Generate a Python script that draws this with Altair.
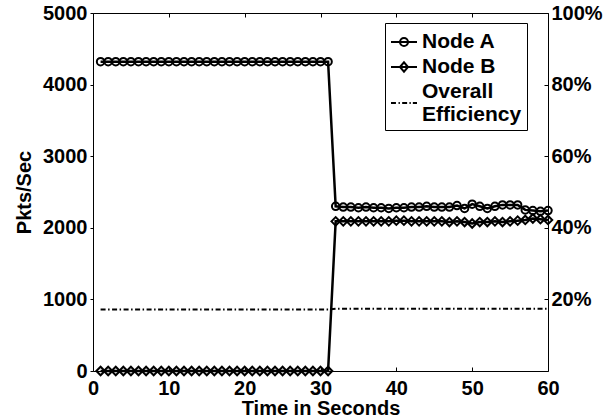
import altair as alt
import pandas as pd

# ---- data ----
t = [1, 2, 3, 4, 5, 6, 7, 8, 9, 10, 11, 12, 13, 14, 15, 16, 17, 18, 19, 20,
     21, 22, 23, 24, 25, 26, 27, 28, 29, 30, 31, 32, 33, 34, 35, 36, 37, 38, 39, 40,
     41, 42, 43, 44, 45, 46, 47, 48, 49, 50, 51, 52, 53, 54, 55, 56, 57, 58, 59, 60]

node_a = [4320, 4320, 4320, 4320, 4320, 4320, 4320, 4320, 4320, 4320,
          4320, 4320, 4320, 4320, 4320, 4320, 4320, 4320, 4320, 4320,
          4320, 4320, 4320, 4320, 4320, 4320, 4320, 4320, 4320, 4320, 4320,
          2300, 2290, 2290, 2280, 2290, 2280, 2280, 2270, 2280, 2280,
          2290, 2290, 2300, 2290, 2290, 2290, 2310, 2270, 2330, 2300,
          2270, 2300, 2320, 2320, 2320, 2250, 2240, 2230, 2240]

node_b = [0, 0, 0, 0, 0, 0, 0, 0, 0, 0,
          0, 0, 0, 0, 0, 0, 0, 0, 0, 0,
          0, 0, 0, 0, 0, 0, 0, 0, 0, 0, 0,
          2090, 2090, 2090, 2090, 2090, 2090, 2090, 2090, 2100, 2100,
          2090, 2090, 2090, 2090, 2090, 2080, 2090, 2080, 2060, 2080,
          2080, 2090, 2080, 2090, 2100, 2110, 2130, 2120, 2110]

efficiency = [17.2, 17.2, 17.2, 17.2, 17.2, 17.2, 17.2, 17.2, 17.2, 17.2,
              17.2, 17.2, 17.2, 17.2, 17.2, 17.2, 17.2, 17.2, 17.2, 17.2,
              17.2, 17.2, 17.2, 17.2, 17.2, 17.2, 17.2, 17.2, 17.2, 17.2, 17.2,
              17.4, 17.4, 17.4, 17.4, 17.4, 17.4, 17.4, 17.4, 17.4, 17.4,
              17.4, 17.4, 17.4, 17.4, 17.4, 17.4, 17.4, 17.4, 17.4, 17.4,
              17.4, 17.4, 17.4, 17.4, 17.4, 17.4, 17.4, 17.4, 17.4]

series_names = ["Node A", "Node B", "Overall Efficiency"]
x_ticks = [0, 10, 20, 30, 40, 50, 60]
y_ticks = [0, 1000, 2000, 3000, 4000, 5000]
pct_ticks = [20, 40, 60, 80, 100]

df = pd.DataFrame({"t": t, "a": node_a, "b": node_b, "eff": efficiency})

FONT = "Liberation Sans"
FS = 20

XS = alt.Scale(domain=[0, 60], nice=False, zero=False)
YL = alt.Scale(domain=[0, 5000], nice=False)
YR = alt.Scale(domain=[0, 100], nice=False)

# legend symbol paths (line + marker), unit coords scaled by sqrt(size)/2
path_a = "M-1,0L1,0M-0.31,0A0.31,0.31,0,1,1,0.31,0A0.31,0.31,0,1,1,-0.31,0"
path_b = "M-1,0L1,0M-0.31,0L0,-0.36L0.31,0L0,0.36Z"
path_e = ("M-1,0.85L-0.62,0.85M-0.42,0.85L-0.32,0.85M-0.14,0.85L0.24,0.85"
          "M0.42,0.85L0.52,0.85M0.68,0.85L1,0.85")

base = alt.Chart(df)

x_main = alt.X("t:Q", scale=XS, axis=alt.Axis(
    orient="bottom", values=x_ticks, title="Time in Seconds", ticks=False,
    domain=False, grid=False, labelPadding=7, titlePadding=0,
    labelFlush=False, labelOverlap=False))
x_none = alt.X("t:Q", scale=XS, axis=None)
x_bottom_ticks = alt.X("t:Q", scale=XS, axis=alt.Axis(
    orient="bottom", values=x_ticks, labels=False, title=None, domain=False,
    grid=False, tickSize=4, offset=-4, tickColor="black"))
x_top_ticks = alt.X("t:Q", scale=XS, axis=alt.Axis(
    orient="top", values=x_ticks, labels=False, title=None, domain=False,
    grid=False, tickSize=4, offset=-4, tickColor="black"))

line_a = base.mark_line(color="black", strokeWidth=2.5).encode(
    x=x_main,
    y=alt.Y("a:Q", scale=YL, axis=alt.Axis(
        orient="left", values=y_ticks, format="d", title="Pkts/Sec", tickSize=3,
        domain=False, grid=False, labelPadding=3, titlePadding=8,
        tickColor="black", labelOverlap=False)),
)

line_b = base.mark_line(color="black", strokeWidth=2.5).encode(
    x=x_bottom_ticks,
    y=alt.Y("b:Q", scale=YL, axis=None),
)

pts_a = base.mark_point(shape="circle", filled=False, color="black",
                        strokeWidth=2, size=56, opacity=1).encode(
    x=x_top_ticks,
    y=alt.Y("a:Q", scale=YL, axis=None),
)

pts_b = base.mark_point(shape="diamond", filled=False, color="black",
                        strokeWidth=2, size=72, opacity=1).encode(
    x=x_none,
    y=alt.Y("b:Q", scale=YL, axis=None),
)

eff_line = base.mark_line(color="black", strokeWidth=2,
                          strokeDash=[5, 2.5, 1.5, 2.5]).encode(
    x=x_none,
    y=alt.Y("eff:Q", scale=YR, axis=alt.Axis(
        orient="right", values=pct_ticks, labelExpr="datum.value + '%'",
        ticks=False, domain=False, grid=False, labelPadding=3, title=None,
        labelOverlap=False)),
)

legend_layer = base.transform_filter("datum.t < 0").transform_calculate(
    key="'Node A'"
).mark_point(filled=False, color="black", strokeWidth=2, size=676, opacity=1).encode(
    x=x_none,
    y=alt.Y("eff:Q", scale=YR, axis=alt.Axis(
        orient="right", values=pct_ticks, labels=False, title=None,
        domain=False, grid=False, tickSize=4, offset=-4, tickColor="black")),
    shape=alt.Shape("key:N", scale=alt.Scale(domain=series_names,
                                             range=[path_a, path_b, path_e]),
                    legend=alt.Legend(
                        title=None, orient="none", legendX=292, legendY=10,
                        direction="vertical", symbolSize=676,
                        symbolStrokeWidth=2, symbolStrokeColor="black",
                        symbolFillColor="transparent", symbolOpacity=1,
                        labelFont=FONT, labelFontSize=21, labelFontWeight="bold",
                        labelColor="black", labelOffset=4, labelLimit=300,
                        rowPadding=1, padding=5, strokeColor="black",
                        fillColor="white",
                        labelExpr="datum.label == 'Overall Efficiency' ? ['Overall', 'Efficiency'] : datum.label",
                    )),
)

chart = alt.layer(
    line_a, line_b, pts_a, pts_b, eff_line, legend_layer
).resolve_scale(
    x="independent", y="independent"
).properties(
    width=455, height=358,
    padding={"left": 93, "top": 13, "right": 68, "bottom": 49},
    autosize=alt.AutoSizeParams(type="none"),
    background="white",
).configure_view(
    stroke="black", strokeWidth=1
).configure_axis(
    labelFont=FONT, labelFontSize=FS, labelFontWeight="bold", labelColor="black",
    titleFont=FONT, titleFontSize=FS, titleFontWeight="bold", titleColor="black",
)

chart.save("out.html", embed_options={"renderer": "svg", "actions": False})
